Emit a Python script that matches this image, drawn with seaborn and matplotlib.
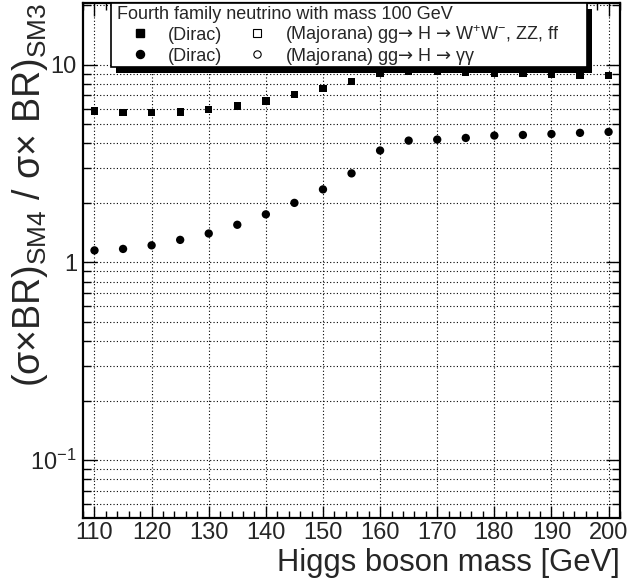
import numpy as np
import pandas as pd
import seaborn as sns
import matplotlib.pyplot as plt
from matplotlib.lines import Line2D
from matplotlib.legend import Legend
from matplotlib.patches import Rectangle
from matplotlib.ticker import FixedLocator, FixedFormatter, MultipleLocator, LogLocator, NullFormatter

# Higgs mass points [GeV]
mass = [110, 115, 120, 125, 130, 135, 140, 145, 150, 155,
        160, 165, 170, 175, 180, 185, 190, 195, 200]

# ratio SM4/SM3, Dirac neutrino, gg -> H -> WW, ZZ, ff
ratio_ww = [5.84, 5.73, 5.73, 5.77, 5.94, 6.19, 6.56, 7.04, 7.55, 8.20,
            9.0, 9.2, 9.2, 9.1, 9.0, 9.0, 8.9, 8.8, 8.8]
# ratio SM4/SM3, Dirac neutrino, gg -> H -> gamma gamma
ratio_gg = [1.15, 1.17, 1.22, 1.30, 1.40, 1.55, 1.75, 2.00, 2.34, 2.82,
            3.68, 4.13, 4.18, 4.26, 4.38, 4.41, 4.46, 4.52, 4.57]

ytick_vals = [0.1, 1, 10]
ytick_labels = ["10$^{-1}$", "1", "10"]
xtick_vals = [110, 120, 130, 140, 150, 160, 170, 180, 190, 200]

header = "Fourth family neutrino with mass 100 GeV"
lab_ww = "(Majorana) gg$\\mathsf{→}$ H $\\mathsf{→}$ W$^{+}$W$^{-}$, ZZ, ff"
lab_gg = "(Majorana) gg$\\mathsf{→}$ H $\\mathsf{→}$ γγ"

sns.set_style("ticks")
plt.rcParams['font.family'] = ['Liberation Sans', 'DejaVu Sans']
plt.rcParams['mathtext.fontset'] = 'custom'
plt.rcParams['mathtext.rm'] = 'Liberation Sans'
plt.rcParams['mathtext.it'] = 'Liberation Sans:italic'
plt.rcParams['mathtext.sf'] = 'DejaVu Sans'
plt.rcParams['mathtext.default'] = 'regular'

df = pd.DataFrame({'mass': mass, 'ww': ratio_ww, 'gg': ratio_gg})

fig = plt.figure(figsize=(6.31, 5.86), dpi=100)
ax = fig.add_axes([82.5/631, 1-518/586, (620-82.5)/631, (518-3)/586])

sns.scatterplot(data=df, x='mass', y='ww', marker='s', s=28, color='black',
                edgecolor='none', linewidth=0, ax=ax, zorder=3)
sns.scatterplot(data=df, x='mass', y='gg', marker='o', s=36, color='black',
                edgecolor='none', linewidth=0, ax=ax, zorder=3)

ax.set_yscale('log')
ax.set_xlim(107.9, 202)
ax.set_ylim(0.051, 20.5)

ax.xaxis.set_major_locator(FixedLocator(xtick_vals))
ax.xaxis.set_minor_locator(MultipleLocator(2))
ax.yaxis.set_major_locator(FixedLocator(ytick_vals))
ax.yaxis.set_major_formatter(FixedFormatter(ytick_labels))
ax.yaxis.set_minor_locator(LogLocator(base=10, subs=np.arange(2, 10)))
ax.yaxis.set_minor_formatter(NullFormatter())

ax.tick_params(axis='both', which='both', direction='in', top=True, right=True,
               color='black', width=1)
ax.tick_params(axis='x', which='major', length=9, labelsize=17, pad=3)
ax.tick_params(axis='x', which='minor', length=5)
ax.tick_params(axis='y', which='major', length=10, labelsize=17, pad=4)
ax.tick_params(axis='y', which='minor', length=6)

ax.grid(True, axis='x', which='major', color='black', linestyle=(0, (1, 2)), linewidth=0.8)
ax.grid(True, axis='y', which='both', color='black', linestyle=(0, (1, 2)), linewidth=0.8)

for sp in ax.spines.values():
    sp.set_linewidth(1.6)
    sp.set_color('black')

ax.set_xlabel("Higgs boson mass [GeV]", fontsize=22.3, loc='right', va='center')
ax.xaxis.set_label_coords(1.0, -0.087)
ax.set_ylabel("(σ×BR)$_{SM4}$ / σ× BR)$_{SM3}$", fontsize=27, loc='top', va='center')
ax.yaxis.set_label_coords(-0.098, 1.0)

# legend box with ROOT-style shadow
bx, by, bw, bh = 0.053, 0.876, 0.886, 0.124
ax.add_patch(Rectangle((bx + 0.0095, by - 0.0125), bw, bh, transform=ax.transAxes,
                       facecolor='black', edgecolor='none', zorder=5, clip_on=False))
ax.add_patch(Rectangle((bx, by), bw, bh, transform=ax.transAxes,
                       facecolor='white', edgecolor='black', linewidth=1.2, zorder=5.5, clip_on=False))
ax.text(0.064, 0.977, header, transform=ax.transAxes, fontsize=13,
        va='center', ha='left', zorder=6)

# one legend per row so both columns stay on the same line
rows = [
    ([Line2D([], [], marker='s', ls='', color='black', markersize=5.3),
      Line2D([], [], marker='s', ls='', markerfacecolor='white', markeredgecolor='black',
             markeredgewidth=0.8, markersize=5.3)],
     ["(Dirac)", lab_ww], 0.939),
    ([Line2D([], [], marker='o', ls='', color='black', markersize=5.8),
      Line2D([], [], marker='o', ls='', markerfacecolor='white', markeredgecolor='black',
             markeredgewidth=0.8, markersize=5.3)],
     ["(Dirac)", lab_gg], 0.897),
]
for hs, ls, yrow in rows:
    leg = Legend(ax, hs, ls, ncol=2, loc='center left', bbox_to_anchor=(0.0902, yrow),
                 frameon=False, fontsize=13, borderpad=0, borderaxespad=0,
                 handlelength=1.0, handletextpad=1.05, columnspacing=1.4)
    leg.set_zorder(6)
    ax.add_artist(leg)

plt.savefig("out.png", dpi=100)
